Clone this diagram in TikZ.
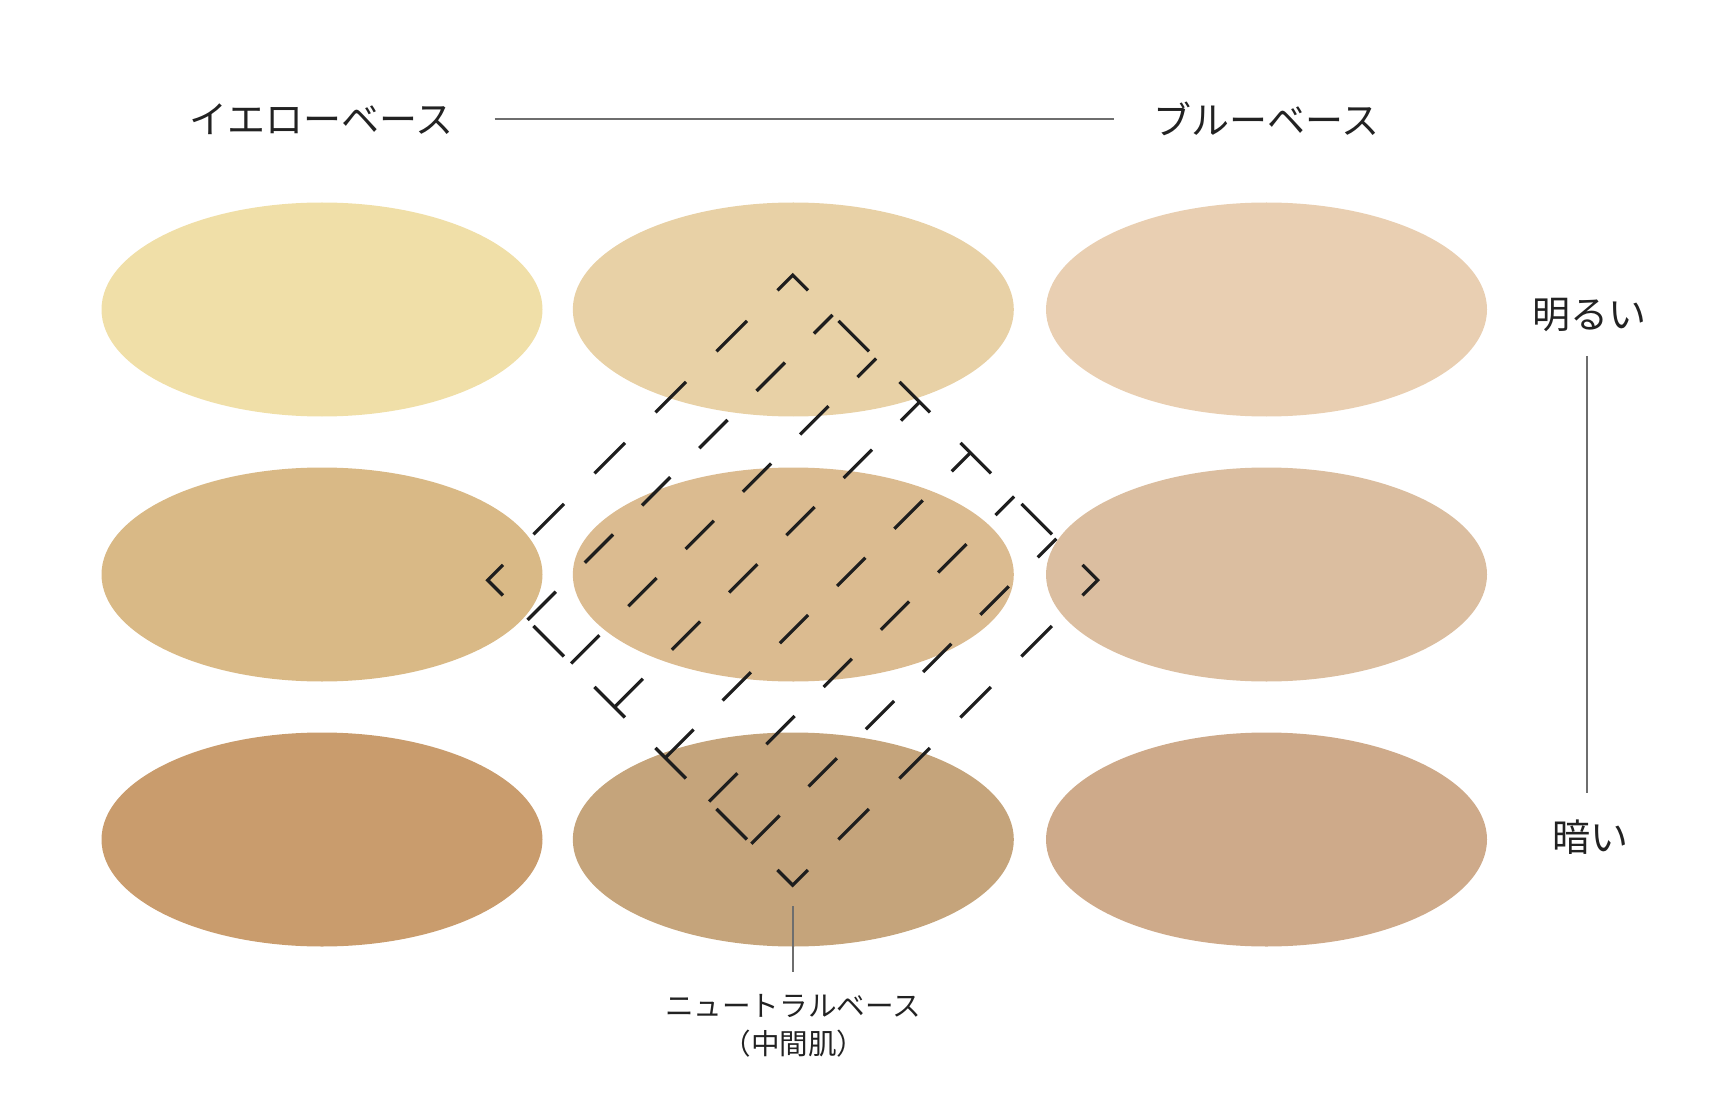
\documentclass[tikz,border=0pt]{standalone}
\usepackage{fontspec}
\newfontfamily\jp{Noto Sans CJK JP}
\usetikzlibrary{shapes.geometric}
\definecolor{cA1}{HTML}{F0DFA8}
\definecolor{cA2}{HTML}{E8D1A6}
\definecolor{cA3}{HTML}{E9CFB2}
\definecolor{cB1}{HTML}{D9B986}
\definecolor{cB2}{HTML}{DBBB90}
\definecolor{cB3}{HTML}{DBBEA0}
\definecolor{cC1}{HTML}{C99C6D}
\definecolor{cC2}{HTML}{C5A47B}
\definecolor{cC3}{HTML}{CEAA8A}
\definecolor{ink}{HTML}{1E1E1E}
\definecolor{txt}{HTML}{222222}
\definecolor{guidegray}{HTML}{6E6E6E}
\begin{document}
\begin{tikzpicture}[x=0.5pt,y=-0.5pt,
  swatch/.style={ellipse, draw=none, inner sep=0pt, minimum width=220.5pt, minimum height=107pt},
  biglabel/.style={font=\jp\fontsize{19pt}{23pt}\selectfont, text=txt, inner sep=0pt, anchor=center},
  smalllabel/.style={font=\jp\fontsize{14.3pt}{17pt}\selectfont, text=txt, inner sep=0pt, anchor=center},
  guide/.style={draw=guidegray, line width=0.7pt},
  outline/.style={draw=ink, line width=1.6pt, miter limit=10, dash pattern=on 21.567pt off 21.567pt, dash phase=32.35pt},
  hatch/.style={draw=ink, line width=1.6pt, dash pattern=on 20pt off 20.5pt}]
\useasboundingbox (0,0) rectangle (1728,1112);
% swatches
\node[swatch, fill=cA1] (eA1) at (322,309.5) {};
\node[swatch, fill=cA2] (eA2) at (793.3,309.5) {};
\node[swatch, fill=cA3] (eA3) at (1266.5,309.5) {};
\node[swatch, fill=cB1] (eB1) at (322,574.5) {};
\node[swatch, fill=cB2] (eB2) at (793.3,574.5) {};
\node[swatch, fill=cB3] (eB3) at (1266.5,574.5) {};
\node[swatch, fill=cC1] (eC1) at (322,839.5) {};
\node[swatch, fill=cC2] (eC2) at (793.3,839.5) {};
\node[swatch, fill=cC3] (eC3) at (1266.5,839.5) {};
% dashed diamond
\coordinate (dT) at (792.7,275.2);
\coordinate (dR) at (1097.7,580.2);
\coordinate (dB) at (792.7,885.2);
\coordinate (dL) at (487.7,580.2);
\coordinate (dM) at (640.2,427.7);
\draw[outline] (dM) -- (dT) -- (dR) -- (dB) -- (dL) -- cycle;
\foreach \c in {1147.5,1234.5,1321.7,1423,1510.7,1595}
  \draw[hatch] ({(\c-92.5)/2},{(\c+92.5)/2}) -- ({(\c+517.5)/2},{(\c-517.5)/2});
% labels
\node[biglabel] (yellow) at (321.5,119) {イエローベース};
\node[biglabel] (blue) at (1266.2,119) {ブルーベース};
\coordinate (hA) at (494.6,119);
\coordinate (hB) at (1114,119);
\draw[guide] (hA) -- (hB);
\node[biglabel] (light) at (1589.5,315) {明るい};
\node[biglabel] (dark) at (1590.5,837.5) {暗い};
\coordinate (vA) at (1587,356);
\coordinate (vB) at (1587,793);
\draw[guide] (vA) -- (vB);
\coordinate (nA) at (793,906);
\coordinate (nB) at (793,972);
\draw[guide] (nA) -- (nB);
\node[smalllabel] (neutral) at (793,1006) {ニュートラルベース};
\node[smalllabel] (neutralsub) at (794,1044) {（中間肌）};
\end{tikzpicture}
\end{document}
